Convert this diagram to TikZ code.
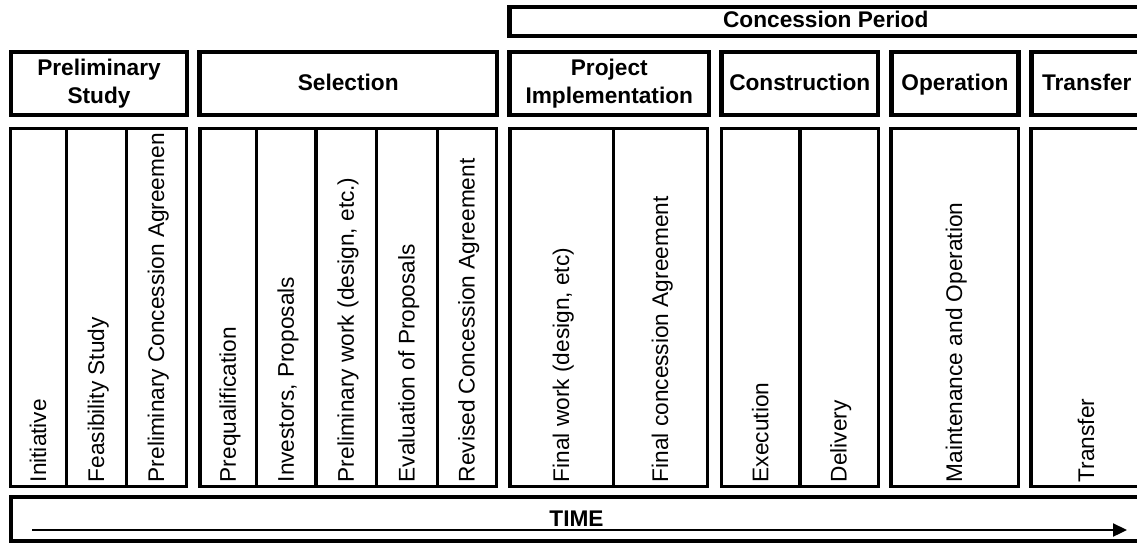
\documentclass[tikz,border=0pt]{standalone}
\usepackage{fontspec}
\setmainfont{Liberation Sans}
\usetikzlibrary{arrows.meta}
\begin{document}
\begin{tikzpicture}[x=0.75pt,y=-0.75pt,
  hbox/.style={draw, line width=3.2pt},
  cbox/.style={draw, line width=2.4pt},
  htext/.style={font=\bfseries\fontsize{17}{21}\selectfont, align=center, inner sep=0pt},
  vtext/.style={font=\fontsize{17}{20}\selectfont, rotate=90, anchor=base west, inner sep=0pt}]
\useasboundingbox (0,0) rectangle (1137,543);
\clip (0,0) rectangle (1137,543);

% concession period
\draw[hbox] (509.5,6.7) rectangle (1142,35.8);
\node[htext, anchor=base] (cp) at (825.75,27) {Concession Period};

% header boxes
\draw[hbox] (11,52) rectangle (187,115);
\draw[hbox] (199.5,52) rectangle (497,115);
\draw[hbox] (509.5,52) rectangle (709,115);
\draw[hbox] (721.5,52) rectangle (878,115);
\draw[hbox] (891.5,52) rectangle (1018.5,115);
\draw[hbox] (1031.5,52) rectangle (1142,115);

\node[htext] (ps) at (99,83.5) {Preliminary\\Study};
\node[htext, anchor=base] (sel) at (348.25,90) {Selection};
\node[htext] (pi) at (609.25,83.5) {Project\\Implementation};
\node[htext, anchor=base] (con) at (799.75,90) {Construction};
\node[htext, anchor=base] (op) at (955,90) {Operation};
\node[htext, anchor=base] (tr) at (1086.75,90) {Transfer};

% lower cells
\draw[cbox] (10.7,128.5) rectangle (186.7,486.7);
\draw[cbox] (66.7,128.5) -- (66.7,486.7);
\draw[cbox] (126.7,128.5) -- (126.7,486.7);

\draw[cbox] (200,128.5) rectangle (496.7,486.7);
\draw[cbox] (256.7,128.5) -- (256.7,486.7);
\draw[cbox] (316,128.5) -- (316,486.7);
\draw[cbox] (376.7,128.5) -- (376.7,486.7);
\draw[cbox] (437.7,128.5) -- (437.7,486.7);

\draw[cbox] (510,128.5) rectangle (707.7,486.7);
\draw[cbox] (613.3,128.5) -- (613.3,486.7);

\draw[cbox] (721.7,128.5) rectangle (878.3,486.7);
\draw[cbox] (800,128.5) -- (800,486.7);

\draw[cbox] (891,128.5) rectangle (1018.3,486.7);
\draw[cbox] (1031,128.5) rectangle (1142,486.7);

% rotated labels
\node[vtext] (c1) at (46.2,482.5) {Initiative};
\node[vtext] (c2) at (104.2,482.5) {Feasibility Study};
\begin{scope}
\clip (128,130) rectangle (185.5,485.5);
\node[vtext] (c3) at (164.2,482.5) {Preliminary Concession Agreemen};
\end{scope}
\node[vtext] (c4) at (235.8,482.5) {Prequalification};
\node[vtext] (c5) at (293.8,482.5) {Investors, Proposals};
\node[vtext] (c6) at (353.8,482.5) {Preliminary work (design, etc.)};
\node[vtext] (c7) at (414.7,482.5) {Evaluation of Proposals};
\node[vtext] (c8) at (474.7,482.5) {Revised Concession Agreement};
\node[vtext] (c9) at (569.2,482.5) {Final work (design, etc)};
\node[vtext] (c10) at (668,482.5) {Final concession Agreement};
\node[vtext] (c11) at (768.3,482.5) {Execution};
\node[vtext] (c12) at (846.7,482.5) {Delivery};
\node[vtext] (c13) at (962.2,482.5) {Maintenance and Operation};
\node[vtext] (c14) at (1094,482.5) {Transfer};

% time box
\draw[hbox] (11,497) rectangle (1142,541);
\node[htext] (time) at (576.5,519) {TIME};
\coordinate (ts) at (32,530);
\coordinate (te) at (1127,530);
\draw[line width=1.7pt, -{Triangle[length=10.5pt,width=9.75pt]}] (ts) -- (te);
\end{tikzpicture}
\end{document}
